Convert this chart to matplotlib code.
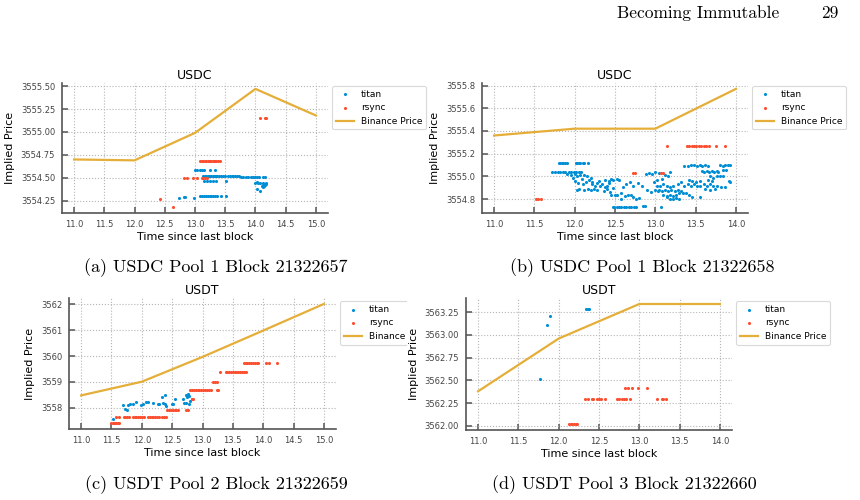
import matplotlib
matplotlib.use("Agg")
import matplotlib.pyplot as plt
from matplotlib.patches import Rectangle

# colours of the original (fivethirtyeight cycle)
TITAN = "#008fd5"
RSYNC = "#fc4f30"
BINANCE = "#e5ae38"

# ---- (a) USDC Pool 1 Block 21322657 ----
a_bin_x = [11, 12, 13, 14, 15]
a_bin_y = [3554.70, 3554.69, 3554.99, 3555.47, 3555.18]
a_titan_x = [12.73, 12.81, 12.84, 12.99, 13.09, 13.12, 13.15, 13.18, 13.21, 13.24, 13.27, 13.30, 13.33, 13.36, 13.43, 13.51,
             13.00, 13.04, 13.08, 13.12, 13.15, 13.25, 13.33,
             13.13, 13.16, 13.19, 13.21, 13.23, 13.25, 13.27, 13.29, 13.31, 13.33, 13.35, 13.37, 13.40, 13.43, 13.46,
             13.50, 13.55, 13.58, 13.61, 13.63, 13.66, 13.69, 13.72, 13.76, 13.80, 13.84, 13.88, 13.92, 13.96, 14.00,
             14.03, 14.06, 14.12, 14.15,
             13.15, 13.20, 13.25, 13.30, 13.34, 13.52,
             14.00, 14.02, 14.04, 14.08, 14.10, 14.12, 14.13, 14.14, 14.15, 14.16, 14.17, 14.18, 14.02, 14.07, 14.13]
a_titan_y = [3554.28, 3554.29, 3554.29, 3554.28, 3554.30, 3554.30, 3554.30, 3554.30, 3554.30, 3554.30, 3554.30, 3554.30,
             3554.30, 3554.30, 3554.30, 3554.30,
             3554.58, 3554.58, 3554.58, 3554.58, 3554.58, 3554.58, 3554.58,
             3554.52, 3554.52, 3554.52, 3554.52, 3554.52, 3554.52, 3554.52, 3554.52, 3554.52, 3554.52, 3554.52,
             3554.52, 3554.52, 3554.52, 3554.52, 3554.52, 3554.52, 3554.52, 3554.52, 3554.52, 3554.52, 3554.52,
             3554.52, 3554.51, 3554.51, 3554.51, 3554.51, 3554.51, 3554.51, 3554.51, 3554.51, 3554.51, 3554.51,
             3554.51,
             3554.46, 3554.46, 3554.46, 3554.46, 3554.46, 3554.46,
             3554.44, 3554.45, 3554.44, 3554.44, 3554.41, 3554.42, 3554.44, 3554.41, 3554.43, 3554.42, 3554.44,
             3554.43, 3554.38, 3554.36, 3554.40]
a_rsync_x = [12.42, 12.64,
             13.08, 13.11, 13.14, 13.17, 13.19, 13.21, 13.23, 13.25, 13.27, 13.29, 13.31, 13.33, 13.35, 13.38, 13.42,
             12.82, 12.87, 12.97, 13.03, 13.11, 13.14, 13.17, 13.20,
             14.07, 14.16, 14.18]
a_rsync_y = [3554.27, 3554.18,
             3554.68, 3554.68, 3554.68, 3554.68, 3554.68, 3554.68, 3554.68, 3554.68, 3554.68, 3554.68, 3554.68,
             3554.68, 3554.68, 3554.68, 3554.68,
             3554.50, 3554.50, 3554.50, 3554.50, 3554.50, 3554.50, 3554.50, 3554.50,
             3555.15, 3555.15, 3555.15]

# ---- (b) USDC Pool 1 Block 21322658 ----
b_bin_x = [11, 12, 13, 14]
b_bin_y = [3555.36, 3555.42, 3555.42, 3555.77]
b_titan_x = [11.80, 11.82, 11.84, 11.86, 11.88, 11.90, 12.01, 12.03, 12.05, 12.07, 12.10, 12.12, 12.17,
             11.72, 11.76, 11.79, 11.82, 11.85, 11.88, 11.93, 11.96, 11.99, 12.02, 12.05, 12.08,
             11.90, 11.95, 11.98, 12.00, 12.03, 12.06, 12.09, 12.12, 12.15, 12.18, 12.20,
             12.00, 12.04, 12.10, 12.14,
             12.03, 12.05, 12.12, 12.16, 12.20, 12.24, 12.28,
             12.22, 12.25, 12.28, 12.31, 12.34, 12.37, 12.40, 12.43,
             12.22, 12.30, 12.38, 12.42, 12.45, 12.48, 12.52, 12.55,
             12.36, 12.40, 12.44, 12.48,
             12.45, 12.50, 12.53, 12.58, 12.62, 12.66, 12.70,
             12.60, 12.64, 12.68, 12.72, 12.78, 12.83,
             12.58, 12.72, 12.76, 12.80,
             12.47, 12.49, 12.52, 12.55, 12.58, 12.61, 12.64, 12.67, 12.70, 12.73, 12.76, 12.85, 12.87,
             12.88, 12.92, 12.96, 13.00, 13.04,
             12.90, 12.95, 13.00, 13.03,
             12.98, 13.02, 13.08,
             13.02, 13.06, 13.10, 13.14, 13.18, 13.22,
             13.05, 13.08, 13.12, 13.16, 13.20, 13.24, 13.28, 13.32,
             13.10, 13.14, 13.18, 13.22, 13.26, 13.30, 13.34, 13.38, 13.42,
             13.15, 13.18, 13.22, 13.26, 13.30,
             13.07,
             13.12, 13.16, 13.18,
             13.28, 13.32, 13.36, 13.40, 13.44, 13.48, 13.52,
             13.42, 13.46, 13.50, 13.55,
             13.36, 13.40, 13.44, 13.48, 13.52, 13.55, 13.58, 13.62, 13.65,
             13.45, 13.56,
             13.58, 13.61, 13.64, 13.67, 13.70, 13.73, 13.76,
             13.56, 13.60, 13.64, 13.68, 13.72, 13.76,
             13.62, 13.68, 13.74,
             13.68, 13.72, 13.76, 13.80, 13.84,
             13.78, 13.84, 13.88,
             13.80, 13.84, 13.87, 13.90, 13.93,
             13.82, 13.86, 13.91, 13.93,
             13.70, 13.65]
b_titan_y = [3555.12, 3555.12, 3555.12, 3555.12, 3555.12, 3555.12, 3555.12, 3555.12, 3555.12, 3555.12, 3555.12,
             3555.12, 3555.12,
             3555.04, 3555.04, 3555.04, 3555.04, 3555.04, 3555.04, 3555.04, 3555.04, 3555.04, 3555.04, 3555.04,
             3555.04,
             3555.02, 3555.01, 3554.99, 3555.02, 3555.00, 3555.01, 3554.98, 3555.01, 3555.00, 3554.97, 3554.99,
             3554.96, 3554.94, 3554.93, 3554.95,
             3554.88, 3554.89, 3554.88, 3554.89, 3554.88, 3554.89, 3554.88,
             3554.93, 3554.92, 3554.94, 3554.92, 3554.93, 3554.91, 3554.92, 3554.94,
             3554.95, 3554.96, 3554.97, 3554.96, 3554.98, 3554.97, 3554.98, 3554.97,
             3554.87, 3554.89, 3554.86, 3554.90,
             3554.84, 3554.84, 3554.84, 3554.85, 3554.83, 3554.84, 3554.84,
             3554.91, 3554.93, 3554.95, 3554.92, 3554.94, 3554.92,
             3554.80, 3554.82, 3554.80, 3554.81,
             3554.73, 3554.73, 3554.73, 3554.73, 3554.73, 3554.73, 3554.73, 3554.73, 3554.73, 3554.73, 3554.73,
             3554.74, 3554.74,
             3555.02, 3555.03, 3555.02, 3555.04, 3555.03,
             3554.88, 3554.86, 3554.88, 3554.87,
             3554.95, 3554.97, 3554.98,
             3554.92, 3554.92, 3554.93, 3554.92, 3554.91, 3554.92,
             3554.88, 3554.87, 3554.88, 3554.87, 3554.88, 3554.87, 3554.88, 3554.87,
             3554.84, 3554.83, 3554.84, 3554.83, 3554.84, 3554.85, 3554.85, 3554.85, 3554.84,
             3554.82, 3554.80, 3554.80, 3554.81, 3554.80,
             3554.73,
             3555.01, 3555.00, 3555.04,
             3554.93, 3554.95, 3554.92, 3554.93, 3554.92, 3554.93, 3554.92,
             3554.97, 3554.96, 3554.95, 3554.96,
             3555.09, 3555.09, 3555.10, 3555.10, 3555.09, 3555.10, 3555.09, 3555.10, 3555.09,
             3554.82, 3554.82,
             3555.05, 3555.04, 3555.05, 3555.04, 3555.05, 3555.04, 3555.05,
             3554.92, 3554.93, 3554.92, 3554.93, 3554.92, 3554.92,
             3554.89, 3554.88, 3554.89,
             3555.00, 3554.99, 3555.00, 3555.00, 3555.00,
             3555.04, 3555.06, 3555.06,
             3555.10, 3555.09, 3555.10, 3555.10, 3555.10,
             3554.91, 3554.91, 3554.96, 3554.95,
             3554.96, 3554.97]
b_rsync_x = [11.52, 11.55, 11.58, 12.72, 12.75, 13.07, 13.10,
             13.14, 13.39, 13.42, 13.45, 13.48, 13.51, 13.54, 13.57, 13.60, 13.63, 13.66, 13.75, 13.87]
b_rsync_y = [3554.80, 3554.80, 3554.80, 3555.03, 3555.03, 3555.03, 3555.03,
             3555.27, 3555.27, 3555.27, 3555.27, 3555.27, 3555.27, 3555.27, 3555.27, 3555.27, 3555.27, 3555.27,
             3555.27, 3555.27]

# ---- (c) USDT Pool 2 Block 21322659 ----
c_bin_x = [11, 12, 13, 14, 15]
c_bin_y = [3558.48, 3559.01, 3559.97, 3560.99, 3562.02]
c_titan_x = [11.53, 11.69, 11.72, 11.75, 11.77, 11.80, 11.85, 11.91, 11.99, 12.02, 12.07, 12.10, 12.18,
             12.26, 12.29, 12.35, 12.34, 12.38, 12.38, 12.40, 12.49, 12.51, 12.55,
             12.68, 12.69, 12.73, 12.76, 12.78, 12.79, 12.73, 12.77, 12.82, 12.75]
c_titan_y = [3557.57, 3558.09, 3557.94, 3557.91, 3558.10, 3558.13, 3558.13, 3558.22, 3558.09, 3558.13, 3558.23,
             3558.23, 3558.19, 3558.15, 3558.15, 3558.17, 3558.41, 3558.48, 3558.13, 3558.06, 3558.13, 3558.13,
             3558.35, 3558.35, 3558.19, 3558.49, 3558.52, 3558.45, 3558.26, 3558.19, 3558.15, 3558.35, 3558.40]
c_rsync_x = [11.50, 11.52, 11.54, 11.56, 11.58, 11.60, 11.62,
             11.58, 11.62, 11.70, 11.73, 11.76, 11.79, 11.85, 11.88, 11.91, 11.94, 11.97, 12.00, 12.03,
             12.10, 12.13, 12.16, 12.19, 12.22, 12.25, 12.28, 12.34, 12.37, 12.40,
             12.42, 12.45, 12.48, 12.51, 12.54, 12.57, 12.60, 12.72, 12.76,
             12.82, 12.85,
             12.80, 12.83, 12.86, 12.89, 12.92, 12.95, 12.98, 13.01, 13.04, 13.07, 13.10, 13.14, 13.24, 13.26,
             13.18, 13.21, 13.24, 13.29,
             13.38, 13.41, 13.44, 13.47, 13.50, 13.53, 13.56, 13.59, 13.62, 13.65, 13.68, 13.72,
             13.68, 13.71, 13.74, 13.77, 13.80, 13.83, 13.86, 13.89, 13.92, 14.04, 14.10, 14.23]
c_rsync_y = [3557.41] * 7 + [3557.64] * 23 + [3557.91] * 9 + [3558.35] * 2 + [3558.68] * 14 + \
            [3559.00, 3559.00, 3559.00, 3559.38] + [3559.38] * 12 + [3559.73] * 12

# ---- (d) USDT Pool 3 Block 21322660 ----
d_bin_x = [11, 12, 13, 14]
d_bin_y = [3562.38, 3562.96, 3563.34, 3563.34]
d_titan_x = [11.77, 11.85, 11.89, 12.34, 12.36, 12.38]
d_titan_y = [3562.52, 3563.11, 3563.21, 3563.29, 3563.29, 3563.29]
d_rsync_x = [12.13, 12.15, 12.17, 12.19, 12.21, 12.23,
             12.33, 12.36, 12.41, 12.43, 12.48, 12.50, 12.53, 12.58, 12.72, 12.75, 12.79, 12.81, 12.83, 12.88,
             13.22, 13.28, 13.30, 13.33,
             12.82, 12.86, 12.91, 12.99, 13.09]
d_rsync_y = [3562.02] * 6 + [3562.30] * 18 + [3562.42] * 5

panels = [
    ("USDC", a_titan_x, a_titan_y, a_rsync_x, a_rsync_y, a_bin_x, a_bin_y),
    ("USDC", b_titan_x, b_titan_y, b_rsync_x, b_rsync_y, b_bin_x, b_bin_y),
    ("USDT", c_titan_x, c_titan_y, c_rsync_x, c_rsync_y, c_bin_x, c_bin_y),
    ("USDT", d_titan_x, d_titan_y, d_rsync_x, d_rsync_y, d_bin_x, d_bin_y),
]
captions = ["(a) USDC Pool 1 Block 21322657", "(b) USDC Pool 1 Block 21322658",
            "(c) USDT Pool 2 Block 21322659", "(d) USDT Pool 3 Block 21322660"]

W, H = 860, 500
# axes boxes in pixels: left, top, right, bottom
boxes = [(62, 83, 328, 213), (482, 83, 748, 213), (69, 298, 336, 429), (466, 298, 732, 430)]
cap_pos = [(216, 268), (642, 268), (216, 485), (624, 485)]

fig = plt.figure(figsize=(W / 100, H / 100), dpi=100)
serif = "cmr10"

fig.text(779 / W, 1 - 13 / H, "Becoming Immutable", ha="right", va="center", family=serif, fontsize=12.5)
fig.text(839 / W, 1 - 13 / H, "29", ha="right", va="center", family=serif, fontsize=12.5)

axes = []
for i, (title, tx, ty, rx, ry, bx, by) in enumerate(panels):
    l, t, r, b = boxes[i]
    ax = fig.add_axes([l / W, 1 - b / H, (r - l) / W, (b - t) / H])
    ax.set_zorder(2 if i == 3 else 0)
    ax.grid(True, linestyle=":", color="#b5b5b5", linewidth=0.8)
    ax.set_axisbelow(True)
    ax.scatter(tx, ty, s=5, color=TITAN, linewidths=0, label="titan", zorder=3)
    ax.scatter(rx, ry, s=5, color=RSYNC, linewidths=0, label="rsync", zorder=3)
    ax.plot(bx, by, color=BINANCE, linewidth=1.6, label="Binance Price", zorder=2)
    ax.ticklabel_format(axis="y", useOffset=False)
    for s in ("top", "right"):
        ax.spines[s].set_visible(False)
    for s in ("left", "bottom"):
        ax.spines[s].set_color("#555555")
        ax.spines[s].set_linewidth(1.2)
    ax.tick_params(direction="in", length=4, width=1.1, color="#555555", labelsize=6,
                   labelcolor="#444444", pad=5)
    ax.set_title(title, fontsize=9, pad=3)
    ax.set_xlabel("Time since last block", fontsize=8, labelpad=2)
    ax.set_ylabel("Implied Price", fontsize=8, labelpad=4)
    leg = ax.legend(loc="upper left", bbox_to_anchor=(1.015, 0.975), fontsize=6.5,
                    frameon=True, fancybox=True, borderaxespad=0)
    leg.get_frame().set_edgecolor("#d0d0d0")
    leg.get_frame().set_linewidth(0.8)
    axes.append(ax)

# the (d) picture sits over the right edge of the (c) legend
fig.patches.append(Rectangle((407 / W, 1 - 465 / H), 1, 183 / H, transform=fig.transFigure,
                             facecolor="white", edgecolor="none", zorder=1))

for cap, (cx, cy) in zip(captions, cap_pos):
    fig.text(cx / W, 1 - cy / H, cap, ha="center", va="center", family=serif, fontsize=13)

fig.savefig("out.png", dpi=100)
